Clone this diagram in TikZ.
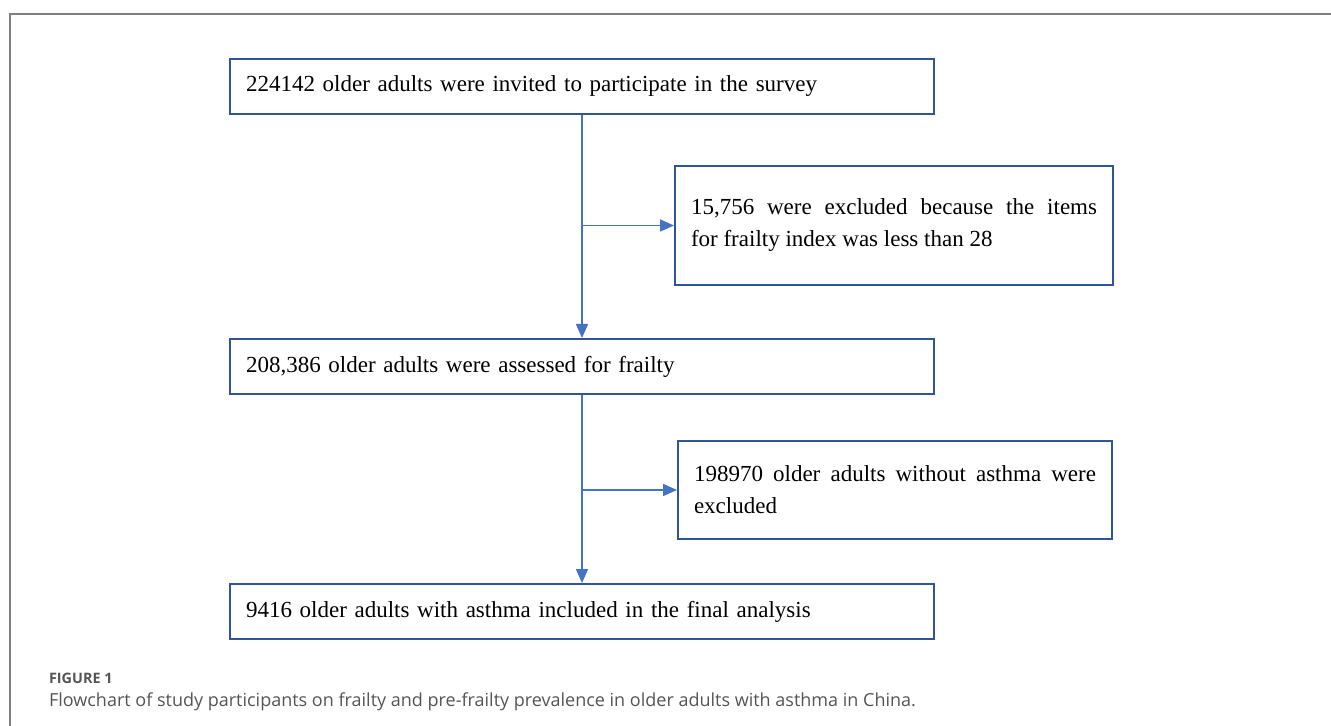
\documentclass[tikz,border=0pt]{standalone}
\usepackage{fontspec}
\setmainfont{Liberation Serif}
\newfontfamily\capfont{Open Sans}
\usetikzlibrary{arrows.meta}
\usetikzlibrary{positioning}

\definecolor{boxblue}{HTML}{2F5597}
\definecolor{lineblue}{HTML}{4472C4}
\definecolor{framegray}{HTML}{7F7F7F}
\definecolor{capgray}{HTML}{555555}

\begin{document}
\begin{tikzpicture}[x=0.5pt, y=-0.5pt
    , every node/.style={}
    , mainbox/.style={draw=boxblue, line width=1pt
        , anchor=north west, minimum width=352pt, minimum height=27.5pt
        , text width=336pt, inner xsep=8pt, align=left
        , font=\fontsize{11.5}{16}\selectfont}
    , sidebox/.style={draw=boxblue, line width=1pt
        , anchor=north west, inner xsep=8pt, align=justify
        , font=\fontsize{11.5}{16}\selectfont}
    , flow/.style={draw=lineblue, line width=0.8pt
        , -{Triangle[length=7pt, width=6pt]}}
    ]

    \useasboundingbox (0,0) rectangle (1331,726);
    % figure frame, open at right and bottom
    \draw[framegray, line width=0.8pt] (10,726) -- (10,14) -- (1331,14);

    %% Here we go.
    \node[mainbox] (invited) at (229,58)
        {224142 older adults were invited to participate in the survey};
    \node[sidebox, text width=203pt, minimum height=59.5pt] (fiexcl) at (674,165)
        {15,756 were excluded because the items\linebreak for frailty index was less than 28};
    \node[mainbox] (assessed) at (229,338)
        {208,386 older adults were assessed for frailty};
    \node[sidebox, text width=201pt, minimum height=49pt] (noasthma) at (677,440)
        {198970 older adults without asthma were\linebreak excluded};
    \node[mainbox] (final) at (229,583)
        {9416 older adults with asthma included in the final analysis};

    % connectors
    \draw[flow] (invited.south) -- (assessed.north);
    \draw[flow] (invited.south |- fiexcl.west) -- (fiexcl.west);
    \draw[flow] (assessed.south) -- (final.north);
    \draw[flow] (assessed.south |- noasthma.west) -- (noasthma.west);

    % caption
    \node[anchor=base west, text=capgray
        , font=\capfont\fontsize{7.2}{9}\selectfont\bfseries] (figlab) at (42,683) {FIGURE 1};
    \node[anchor=base west, text=capgray
        , font=\capfont\fontsize{9}{11}\selectfont] (figcap) at (42,706)
        {Flowchart of study participants on frailty and pre-frailty prevalence in older adults with asthma in China.};

\end{tikzpicture}
\end{document}
